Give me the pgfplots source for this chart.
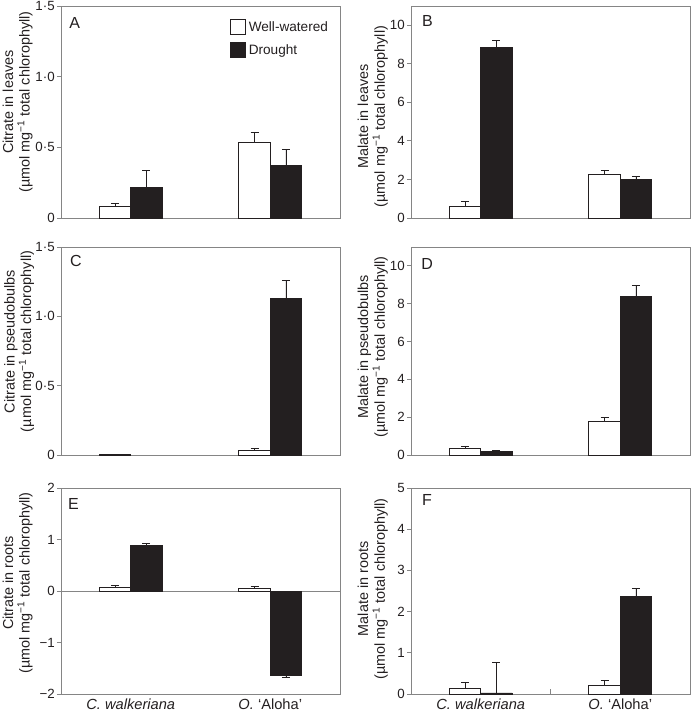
\documentclass[border=0pt]{standalone}
\usepackage{pgfplots}
\pgfplotsset{compat=1.18}
\usepackage{fontspec}
\setmainfont{Liberation Sans}
\definecolor{framegray}{HTML}{858585}
\definecolor{txt}{HTML}{231F20}
\definecolor{barblack}{HTML}{231F20}
\tikzset{letter/.style={anchor=north west, inner sep=0pt, font=\fontsize{12}{14}\selectfont, text=txt}}
\pgfplotsset{
  panel/.style={scale only axis, width=209.25pt, anchor=south west,
    xmin=-0.5, xmax=1.5, xtick=\empty,
    axis line style={draw=framegray, line width=0.7pt},
    ytick pos=left, ytick align=outside, major tick length=3pt,
    y tick style={draw=framegray, line width=0.7pt},
    yticklabel style={font=\fontsize{10}{12}\selectfont, text=txt, inner sep=1.5pt},
    ylabel style={font=\fontsize{10.8}{12.5}\selectfont, text=txt, align=center, inner sep=0pt, anchor=south},
    clip=false},
  catlabels/.style={xtick={0,1}, x tick style={draw=none},
    xticklabels={\textit{C. walkeriana}, \textit{O.}\ ‘Aloha’},
    xticklabel style={font=\fontsize{11}{13}\selectfont, text=txt}},
  errs/.style={error bars/y explicit,
    error bars/error bar style={line width=0.6pt, draw=barblack},
    error bars/error mark options={rotate=90, mark size=3pt, line width=0.6pt, draw=barblack}},
  wwbar/.style={ybar, bar width=0.225, bar shift=0pt, fill=white, draw=barblack, line width=0.6pt,
    errs, error bars/y dir=plus},
  drbar/.style={ybar, bar width=0.225, bar shift=0pt, fill=barblack, draw=barblack, line width=0.6pt,
    errs, error bars/y dir=plus},
  drbarneg/.style={ybar, bar width=0.225, bar shift=0pt, fill=barblack, draw=barblack, line width=0.6pt,
    errs, error bars/y dir=minus},
}
% bar centres: well-watered at -0.1125 and 0.8875, drought at 0.1125 and 1.1125
\begin{document}
\begin{tikzpicture}
\useasboundingbox (0,0) rectangle (519pt,534.75pt);
% Panel A
\begin{axis}[panel, at={(45.75pt,371.25pt)}, height=159pt, ymin=0, ymax=1.5,
  ytick={0,0.5,1,1.5}, yticklabels={0,0·5,1·0,1·5},
  ylabel={Citrate in leaves\\(µmol mg\textsuperscript{−1} total chlorophyll)},
  ylabel style={at={(axis description cs:-0.1004,0.547)}},
  legend style={draw=none, fill=none, at={(axis description cs:0.606,0.942)}, anchor=north west,
    inner sep=0pt, font=\fontsize{10.2}{12}\selectfont, text=txt, row sep=4.5pt,
    /tikz/every even column/.append style={column sep=2pt}},
  legend cell align=left]
\addlegendimage{legend image code/.code={\draw[fill=white, draw=barblack, line width=0.6pt] (0pt,-5.6pt) rectangle (11.25pt,5.6pt);}}
\addlegendentry{Well-watered}
\addlegendimage{legend image code/.code={\draw[fill=barblack, draw=barblack, line width=0.6pt] (0pt,-5.6pt) rectangle (11.25pt,5.6pt);}}
\addlegendentry{Drought}
\addplot[forget plot, wwbar] coordinates {(-0.1125,0.085) += (0,0.02) (0.8875,0.535) += (0,0.07)};
\addplot[forget plot, drbar] coordinates {(0.1125,0.215) += (0,0.12) (1.1125,0.37) += (0,0.115)};
\node[letter] at (rel axis cs:0.029,0.948) {A};
\end{axis}
% Panel B
\begin{axis}[panel, at={(308.25pt,371.25pt)}, height=159pt, ymin=0, ymax=11,
  ytick={0,2,4,6,8,10}, yticklabels={0,2,4,6,8,10},
  ylabel={Malate in leaves\\(µmol mg\textsuperscript{−1} total chlorophyll)},
  ylabel style={at={(axis description cs:-0.082,0.479)}}]
\addplot[wwbar] coordinates {(-0.1125,0.6) += (0,0.25) (0.8875,2.25) += (0,0.22)};
\addplot[drbar] coordinates {(0.1125,8.85) += (0,0.37) (1.1125,2.02) += (0,0.14)};
\node[letter] at (rel axis cs:0.039,0.958) {B};
\end{axis}
% Panel C
\begin{axis}[panel, at={(45.75pt,193.5pt)}, height=156pt, ymin=0, ymax=1.5,
  ytick={0,0.5,1,1.5}, yticklabels={0,0·5,1·0,1·5},
  ylabel={Citrate in pseudobulbs\\(µmol mg\textsuperscript{−1} total chlorophyll)},
  ylabel style={at={(axis description cs:-0.095,0.546)}}]
\addplot[wwbar] coordinates {(-0.1125,0.007) += (0,0) (0.8875,0.031) += (0,0.017)};
\addplot[drbar] coordinates {(1.1125,1.132) += (0,0.125)};
\node[letter] at (rel axis cs:0.032,0.962) {C};
\end{axis}
% Panel D
\begin{axis}[panel, at={(308.25pt,193.5pt)}, height=156pt, ymin=0, ymax=11,
  ytick={0,2,4,6,8,10}, yticklabels={0,2,4,6,8,10},
  ylabel={Malate in pseudobulbs\\(µmol mg\textsuperscript{−1} total chlorophyll)},
  ylabel style={at={(axis description cs:-0.082,0.52)}}]
\addplot[wwbar] coordinates {(-0.1125,0.35) += (0,0.09) (0.8875,1.78) += (0,0.19)};
\addplot[drbar] coordinates {(0.1125,0.19) += (0,0.05) (1.1125,8.4) += (0,0.55)};
\node[letter] at (rel axis cs:0.036,0.947) {D};
\end{axis}
% Panel E
\begin{axis}[panel, catlabels, at={(45.75pt,14.25pt)}, height=154.5pt, ymin=-2, ymax=2,
  ytick={-2,-1,0,1,2}, yticklabels={−2,−1,0,1,2},
  ylabel={Citrate in roots\\(µmol mg\textsuperscript{−1} total chlorophyll)},
  ylabel style={at={(axis description cs:-0.1004,0.539)}}]
\addplot[framegray, line width=0.7pt, forget plot] coordinates {(-0.5,0) (1.5,0)};
\addplot[wwbar] coordinates {(-0.1125,0.07) += (0,0.03) (0.8875,0.06) += (0,0.02)};
\addplot[drbar] coordinates {(0.1125,0.89) += (0,0.03)};
\addplot[drbarneg] coordinates {(1.1125,-1.63) -= (0,0.04)};
\node[letter] at (rel axis cs:0.025,0.951) {E};
\end{axis}
% Panel F
\begin{axis}[panel, catlabels, at={(308.25pt,14.25pt)}, height=154.5pt, ymin=0, ymax=5,
  ytick={0,1,2,3,4,5}, yticklabels={0,1,2,3,4,5},
  ylabel={Malate in roots\\(µmol mg\textsuperscript{−1} total chlorophyll)},
  ylabel style={at={(axis description cs:-0.082,0.51)}}]
\addplot[wwbar] coordinates {(-0.1125,0.13) += (0,0.15) (0.8875,0.21) += (0,0.11)};
\addplot[drbar] coordinates {(0.1125,0.025) += (0,0.75) (1.1125,2.37) += (0,0.19)};
\draw[framegray, line width=0.7pt] (axis cs:0.5,0) -- ++(0pt,3.75pt);
\node[letter] at (rel axis cs:0.039,0.97) {F};
\end{axis}
\end{tikzpicture}
\end{document}
